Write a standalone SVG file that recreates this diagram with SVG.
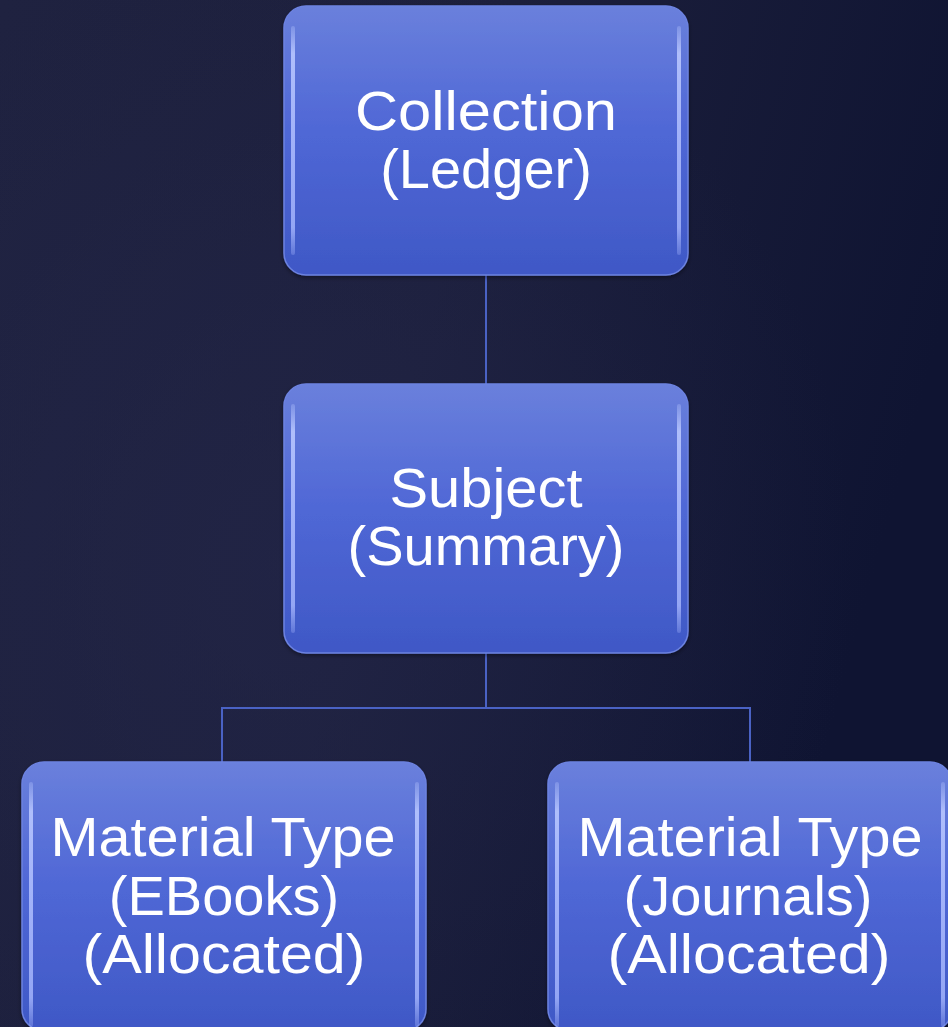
<svg xmlns="http://www.w3.org/2000/svg" width="948" height="1027" viewBox="0 0 948 1027">
<defs>
<linearGradient id="bg" x1="0" y1="0" x2="1" y2="0.3">
<stop offset="0" stop-color="#1f2240"/>
<stop offset="0.5" stop-color="#1c1f3c"/>
<stop offset="1" stop-color="#0f1432"/>
</linearGradient>
<radialGradient id="bgglow" cx="0.3" cy="0.55" r="0.6">
<stop offset="0" stop-color="#24274a" stop-opacity="0.6"/>
<stop offset="1" stop-color="#24274a" stop-opacity="0"/>
</radialGradient>
<linearGradient id="boxfill" x1="0" y1="0" x2="0" y2="1">
<stop offset="0" stop-color="#6a80dc"/>
<stop offset="0.45" stop-color="#5068d6"/>
<stop offset="1" stop-color="#3f58c6"/>
</linearGradient>
<linearGradient id="hlg" x1="0" y1="0" x2="0" y2="1">
<stop offset="0" stop-color="#b8c6ff" stop-opacity="0.3"/>
<stop offset="0.12" stop-color="#b8c6ff" stop-opacity="0.9"/>
<stop offset="0.88" stop-color="#a8b8ff" stop-opacity="0.8"/>
<stop offset="1" stop-color="#a8b8ff" stop-opacity="0.3"/>
</linearGradient>
<filter id="shadow" x="-10%" y="-10%" width="120%" height="120%">
<feDropShadow dx="0" dy="2" stdDeviation="2" flood-color="#000" flood-opacity="0.4"/>
</filter>
</defs>
<style>
.box{fill:url(#boxfill);stroke:#6c82e0;stroke-width:1.5;filter:url(#shadow)}
.hl{fill:url(#hlg)}
.lbl{font-family:"Liberation Sans",Arial,sans-serif;font-size:56px;fill:#ffffff;text-anchor:middle}
.conn{stroke:#4a62c4;stroke-width:2;fill:none}
</style>
<rect width="948" height="1027" fill="url(#bg)"/>
<rect width="948" height="1027" fill="url(#bgglow)"/>
<g id="connectors">
<line class="conn" x1="486" y1="275" x2="486" y2="384"/>
<polyline class="conn" points="486,653 486,708 222,708 222,762"/>
<polyline class="conn" points="486,708 750,708 750,762"/>
</g>
<g id="node-collection">
<rect class="box" x="284" y="6" width="404" height="269" rx="22"/>
<rect class="hl" x="291" y="26" width="4" height="229" rx="2"/>
<rect class="hl" x="677" y="26" width="4" height="229" rx="2"/>
<text class="lbl" x="486" y="130" textLength="262" lengthAdjust="spacingAndGlyphs">Collection</text>
<text class="lbl" x="486" y="188">(Ledger)</text>
</g>
<g id="node-subject">
<rect class="box" x="284" y="384" width="404" height="269" rx="22"/>
<rect class="hl" x="291" y="404" width="4" height="229" rx="2"/>
<rect class="hl" x="677" y="404" width="4" height="229" rx="2"/>
<text class="lbl" x="486" y="507" textLength="193" lengthAdjust="spacingAndGlyphs">Subject</text>
<text class="lbl" x="486" y="565">(Summary)</text>
</g>
<g id="node-ebooks">
<rect class="box" x="22" y="762" width="404" height="269" rx="22"/>
<rect class="hl" x="29" y="782" width="4" height="245" rx="2"/>
<rect class="hl" x="415" y="782" width="4" height="245" rx="2"/>
<text class="lbl" x="223" y="856" textLength="345" lengthAdjust="spacingAndGlyphs">Material Type</text>
<text class="lbl" x="224" y="915">(EBooks)</text>
<text class="lbl" x="224" y="973" textLength="283" lengthAdjust="spacingAndGlyphs">(Allocated)</text>
</g>
<g id="node-journals">
<rect class="box" x="548" y="762" width="404" height="269" rx="22"/>
<rect class="hl" x="555" y="782" width="4" height="245" rx="2"/>
<rect class="hl" x="941" y="782" width="4" height="245" rx="2"/>
<text class="lbl" x="750" y="856" textLength="345" lengthAdjust="spacingAndGlyphs">Material Type</text>
<text class="lbl" x="748" y="915">(Journals)</text>
<text class="lbl" x="749" y="973" textLength="283" lengthAdjust="spacingAndGlyphs">(Allocated)</text>
</g>
</svg>
